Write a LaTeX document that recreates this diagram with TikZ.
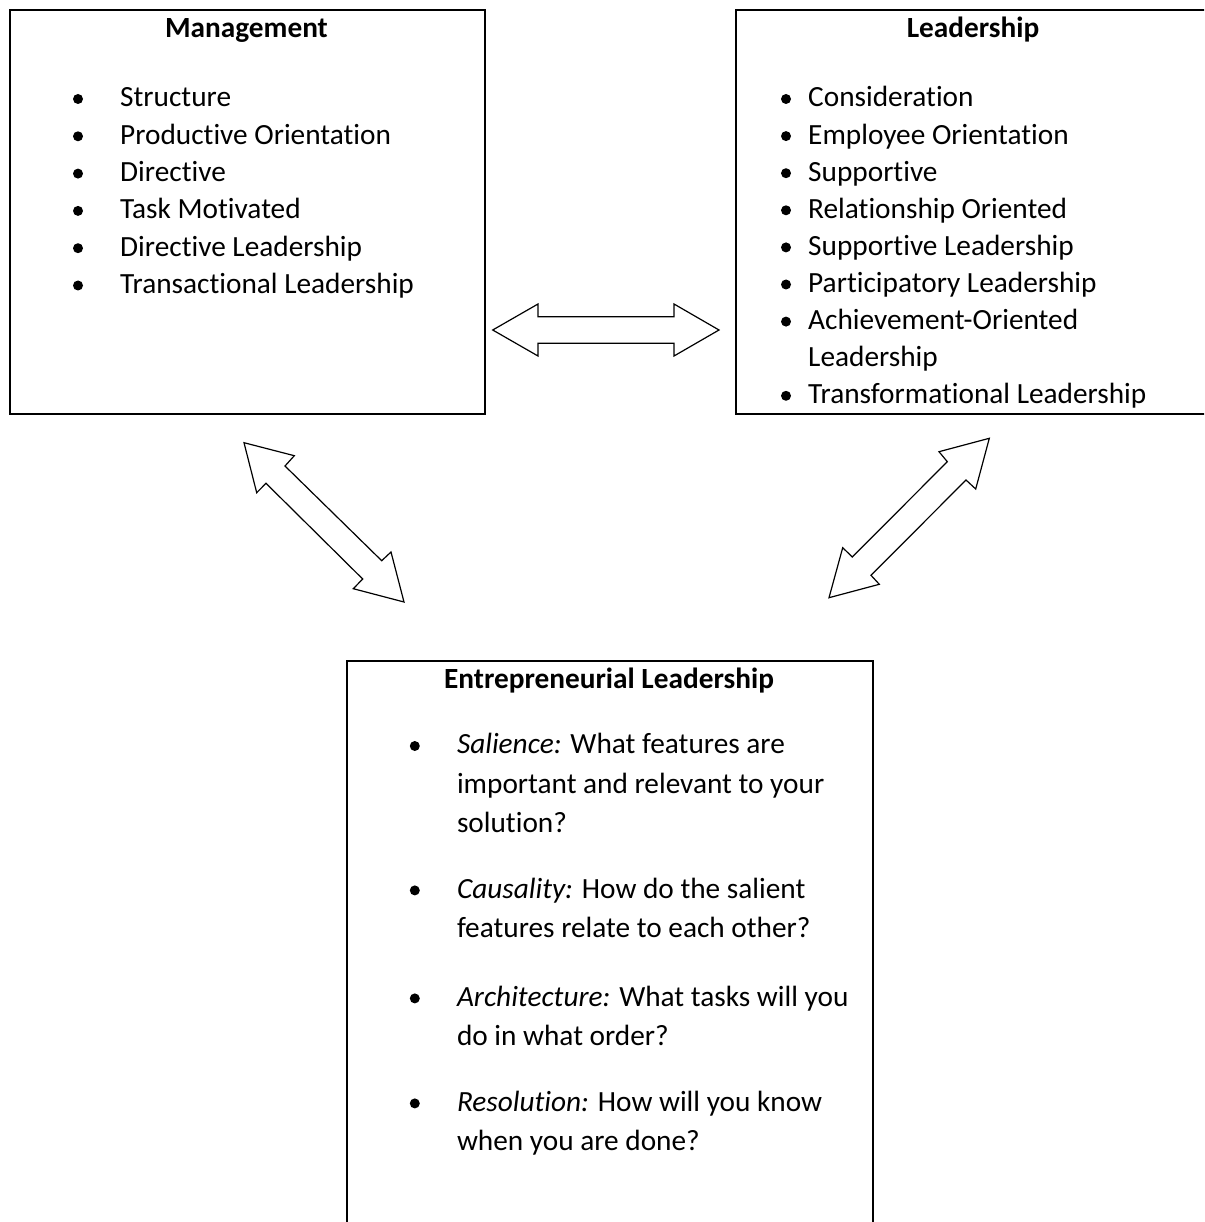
\documentclass[tikz,border=0pt]{standalone}
\usepackage{fontspec}
\setmainfont{Carlito}[Ligatures=NoCommon]
\begin{document}
\begin{tikzpicture}[x=1pt,y=-1pt,
  box/.style={draw=black,line width=1.6pt,rectangle,anchor=north west,inner sep=0pt},
  blockarrow/.style={draw=black,line width=1.2pt,line join=miter,fill=white},
  txt/.style={anchor=base west,inner sep=0pt,font=\fontsize{29.3}{35}\selectfont},
  ttl/.style={anchor=base,inner sep=0pt,font=\fontsize{29.3}{35}\selectfont\bfseries},
  dot/.style={circle,fill=black,inner sep=0pt,minimum size=10pt}]
\useasboundingbox (0,0) rectangle (1204,1222);
\clip (0,0) rectangle (1204,1222);
\fill[white] (0,0) rectangle (1204,1222);
% boxes
\node[box,minimum width=475pt,minimum height=404pt] (mgmt) at (9,9) {};
\node[box,minimum width=476pt,minimum height=404pt] (lead) at (735,9) {};
\node[box,minimum width=526pt,minimum height=600pt] (entr) at (346,660) {};
% titles
\node[ttl] (mgmtT) at (246.5,37.5) {Management};
\node[ttl] (leadT) at (973,37.5) {Leadership};
\node[ttl] (entrT) at (609,688) {Entrepreneurial Leadership};
% management items
\foreach \y/\t [count=\i] in {107/Structure,144.3/Productive Orientation,181.6/Directive,218.9/Task Motivated,256.2/Directive Leadership,293.5/Transactional Leadership}{
  \node[dot] (mb\i) at (78,{\y-8}) {};
  \node[txt] (mt\i) at (120,\y) {\t};
}
% leadership items
\foreach \y/\t [count=\i] in {107/Consideration,144.1/Employee Orientation,181.2/Supportive,218.3/Relationship Oriented,255.4/Supportive Leadership,292.5/Participatory Leadership,329.6/Achievement-Oriented,403.8/Transformational Leadership}{
  \node[dot] (lb\i) at (786,{\y-8}) {};
  \node[txt] (lt\i) at (808,\y) {\t};
}
\node[txt] (lt7b) at (808,366.7) {Leadership};
% entrepreneurial items
\foreach \y [count=\i] in {753.6,898,1006,1111}{
  \node[dot] (eb\i) at (414.8,{\y-7.6}) {};
}
\node[txt] (e1a) at (456.8,753.6) {\textit{Salience:} What features are};
\node[txt] (e1b) at (456.8,793) {important and relevant to your};
\node[txt] (e1c) at (456.8,832) {solution?};
\node[txt] (e2a) at (456.8,898) {\textit{Causality:} How do the salient};
\node[txt] (e2b) at (456.8,937) {features relate to each other?};
\node[txt] (e3a) at (456.8,1006) {\textit{Architecture:} What tasks will you};
\node[txt] (e3b) at (456.8,1045) {do in what order?};
\node[txt] (e4a) at (456.8,1111) {\textit{Resolution:} How will you know};
\node[txt] (e4b) at (456.8,1150) {when you are done?};
% block arrows
\draw[blockarrow] (492.7,330) -- (538,304) -- (538,316.7) -- (674,316.7) -- (674,304) -- (719,330) -- (674,356) -- (674,343.3) -- (538,343.3) -- (538,356) -- cycle;
\draw[blockarrow] (244,442.7) -- (294.3,455.7) -- (285,466) -- (381.7,560.7) -- (391,552) -- (404,602) -- (353.3,588.7) -- (362.7,579) -- (266,483.3) -- (256.7,492.7) -- cycle;
\draw[blockarrow] (989.3,438.3) -- (975.7,489) -- (966,480) -- (871,575.3) -- (879.3,584.3) -- (829,597.7) -- (842.7,547.7) -- (852.3,557) -- (947.3,461.7) -- (939,451.7) -- cycle;
\end{tikzpicture}
\end{document}
